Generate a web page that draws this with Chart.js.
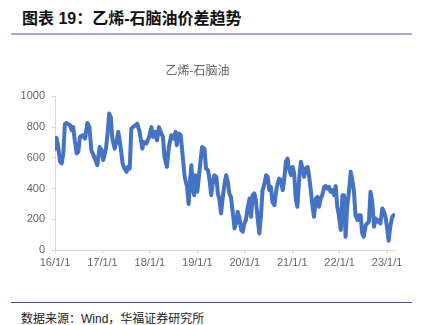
<!DOCTYPE html>
<html lang="zh">
<head>
<meta charset="UTF-8">
<title>乙烯-石脑油价差趋势</title>
<script src="https://cdn.jsdelivr.net/npm/chart.js"></script>
<style>
    body { margin: 0; width: 425px; height: 325px; background: #fff; position: relative; overflow: hidden;
           font-family: 'Liberation Sans', 'Noto Sans CJK SC', sans-serif; }
    .head { position: absolute; left: 22px; top: 5px; font-size: 16px; font-weight: bold; color: #111;
            font-family: 'Liberation Sans', 'Noto Sans CJK SC', sans-serif; }
    .head-line { position: absolute; left: 11px; top: 33px; width: 401px; height: 2px; background: #a7a9d5; }
    .foot-line { position: absolute; left: 11px; top: 302px; width: 401px; height: 1px; background: #4b4b9b; }
    .foot { position: absolute; left: 21px; top: 309px; font-size: 12px; color: #222; }
    .box { position: absolute; left: 0; top: 40px; width: 425px; height: 250px; }
</style>
</head>
<body>
<div class="head">图表 19：乙烯-石脑油价差趋势</div>
<div class="head-line"></div>
<div class="box"><canvas id="spread"></canvas></div>
<div class="foot-line"></div>
<div class="foot">数据来源：Wind，华福证券研究所</div>

<script>
// 月份（自2016年1月起）与价差
const months = [
    0.0, 0.4, 0.8, 1.3, 1.7, 2.1, 2.5, 2.9, 3.8, 4.2, 4.6, 5.0, 5.5, 5.9, 6.3, 7.0, 7.6, 8.2, 8.7, 9.2,
    10.1, 10.7, 11.3, 11.8, 12.2, 12.9, 13.3, 13.7, 14.1, 14.5, 15.1, 15.5, 16.0, 16.6, 17.1, 17.6, 18.1, 18.5, 18.9, 19.3,
    19.7, 20.4, 20.8, 21.4, 22.1, 22.4, 23.1, 23.8, 24.4, 24.8, 25.3, 25.8, 26.3, 26.9, 27.3, 27.7, 28.3, 28.8, 29.4, 30.0,
    30.5, 30.8, 31.3, 31.8, 32.2, 32.8, 33.4, 33.8, 34.2, 34.5, 34.9, 35.2, 35.5, 36.0, 36.4, 36.8, 37.2, 37.8, 38.2, 38.7,
    39.1, 39.5, 39.9, 40.3, 40.8, 41.2, 41.6, 42.0, 42.4, 42.9, 43.3, 43.7, 44.1, 44.5, 45.0, 45.4, 45.8, 46.2, 46.6, 47.1,
    47.5, 47.9, 48.3, 48.7, 49.2, 49.6, 50.0, 50.4, 50.8, 51.3, 51.7, 52.1, 52.5, 52.9, 53.4, 53.8, 54.2, 54.6, 55.0, 55.5,
    55.9, 56.3, 56.7, 57.1, 57.6, 58.0, 58.4, 58.8, 59.2, 59.7, 60.1, 60.5, 60.9, 61.3, 61.8, 62.2, 62.6, 63.0, 63.4, 63.9,
    64.3, 64.7, 65.1, 65.5, 66.0, 66.4, 66.8, 67.2, 67.6, 68.1, 68.5, 68.9, 69.3, 69.7, 70.2, 70.6, 71.0, 71.4, 71.8, 72.3,
    72.7, 73.1, 73.5, 73.9, 74.4, 74.8, 75.2, 75.6, 76.0, 76.5, 76.9, 77.3, 77.7, 78.1, 78.6, 79.0, 79.4, 79.8, 80.2, 80.7,
    81.1, 81.5, 81.9, 82.3, 82.8, 83.2, 83.6, 84.0, 84.4, 84.8, 85.3, 85.7
];
const spread = [
    660, 730, 670, 575, 563, 628, 820, 827, 812, 780, 800, 714, 628, 640, 736, 747, 725, 827, 800, 650,
    595, 552, 670, 650, 585, 660, 758, 888, 866, 725, 660, 703, 769, 670, 563, 530, 509, 541, 530, 790,
    800, 812, 823, 769, 660, 703, 693, 736, 800, 736, 769, 714, 800, 758, 736, 606, 541, 670, 747, 725,
    769, 682, 758, 747, 640, 476, 411, 299, 465, 552, 390, 357, 487, 379, 476, 574, 670, 660, 530, 520,
    455, 357, 433, 487, 476, 368, 325, 238, 335, 433, 487, 444, 368, 346, 238, 141, 173, 249, 216, 130,
    119, 173, 195, 270, 335, 216, 357, 368, 325, 195, 108, 227, 390, 422, 487, 476, 390, 411, 314, 292,
    379, 433, 465, 455, 390, 465, 574, 595, 530, 487, 541, 498, 335, 281, 476, 574, 530, 476, 530, 541,
    476, 390, 292, 216, 335, 346, 281, 335, 357, 411, 416, 400, 411, 379, 390, 357, 416, 281, 227, 130,
    357, 357, 87, 281, 390, 509, 455, 390, 227, 195, 227, 227, 108, 87, 162, 173, 184, 379, 325, 152,
    206, 184, 195, 173, 270, 249, 216, 141, 60, 152, 216, 227
];
const yearTicks = [0, 12, 24, 36, 48, 60, 72, 84];
const yearLabels = ['16/1/1', '17/1/1', '18/1/1', '19/1/1', '20/1/1', '21/1/1', '22/1/1', '23/1/1'];

const points = months.map((m, i) => ({ x: m, y: spread[i] }));
const tickFont = { family: "'Liberation Sans', 'Noto Sans CJK SC', sans-serif", size: 11 };

new Chart(document.getElementById('spread'), {
    type: 'line',
    data: {
        datasets: [{
            label: '乙烯-石脑油',
            data: points,
            borderColor: '#4472c4',
            borderWidth: 4,
            borderJoinStyle: 'round',
            borderCapStyle: 'round',
            pointRadius: 0,
            tension: 0,
            fill: false
        }]
    },
    options: {
        responsive: true,
        maintainAspectRatio: false,
        animation: false,
        layout: { padding: { left: 0, right: 30, top: 0, bottom: 0 } },
        plugins: {
            legend: { display: false },
            tooltip: { enabled: false },
            title: {
                display: true,
                text: '乙烯-石脑油',
                color: '#666',
                font: { family: "'Noto Sans CJK SC', sans-serif", size: 12, weight: 'normal' },
                padding: { top: 23, bottom: 19 }
            }
        },
        scales: {
            x: {
                type: 'linear',
                min: 0,
                max: 86,
                afterBuildTicks: (s) => { s.ticks = yearTicks.map(v => ({ value: v })); },
                afterFit: (s) => { s.height = 40; },
                ticks: {
                    color: '#666',
                    font: tickFont,
                    padding: 2,
                    maxRotation: 0,
                    autoSkip: false,
                    callback: (v) => yearLabels[yearTicks.indexOf(v)]
                },
                grid: { drawOnChartArea: false, drawTicks: true, tickLength: 4, color: '#d9d9d9' },
                border: { color: '#d9d9d9' }
            },
            y: {
                min: 0,
                max: 1000,
                afterFit: (s) => { s.width = 55; },
                ticks: { stepSize: 200, color: '#666', font: tickFont, padding: 6, callback: (v) => String(v) },
                grid: { drawOnChartArea: false, drawTicks: true, tickLength: 4, color: '#d9d9d9' },
                border: { color: '#d9d9d9' }
            }
        }
    }
});
</script>
</body>
</html>
